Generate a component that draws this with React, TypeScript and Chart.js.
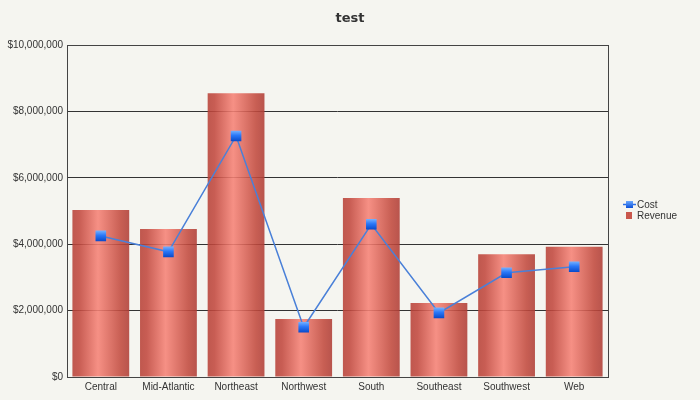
import React, { useEffect, useRef } from "react";
import { Chart, registerables } from "chart.js";
Chart.register(...registerables);

const categories = ["Central", "Mid-Atlantic", "Northeast", "Northwest", "South", "Southeast", "Southwest", "Web"];
const revenue = [5030000, 4460000, 8550000, 1750000, 5390000, 2230000, 3700000, 3920000];
const cost = [4250000, 3770000, 7260000, 1500000, 4600000, 1930000, 3140000, 3320000];
const titleText = "test";
const legendLabels = ["Cost", "Revenue"];

const BG = "#f5f5f0";
const FONT = "'Liberation Sans', sans-serif";
const TFONT = "'DejaVu Sans', sans-serif";

const fmt = (v: number) => "$" + Number(v).toLocaleString("en-US");

export default function App() {
  const ref = useRef<HTMLCanvasElement>(null);
  useEffect(() => {
    document.body.style.margin = "0";
    document.body.style.background = BG;
    const canvas = ref.current!;
    const deco = {
      id: "deco",
      beforeDraw(chart: any) {
        const ctx = chart.ctx;
        ctx.save();
        ctx.fillStyle = BG;
        ctx.fillRect(0, 0, chart.width, chart.height);
        ctx.restore();
      },
      afterDatasetsDraw(chart: any) {
        const ctx = chart.ctx;
        const a = chart.chartArea;
        ctx.save();
        ctx.strokeStyle = "#444";
        ctx.lineWidth = 1;
        ctx.strokeRect(Math.round(a.left) + 0.5, Math.round(a.top) + 0.5, Math.round(a.right - a.left), Math.round(a.bottom - a.top));
        // title
        ctx.fillStyle = "#333";
        ctx.font = "bold 13px " + TFONT;
        ctx.textAlign = "center";
        ctx.textBaseline = "middle";
        ctx.fillText(titleText, 350, 19);
        // legend
        ctx.font = "10px " + FONT;
        ctx.textAlign = "left";
        ctx.strokeStyle = "#2a6ee8";
        ctx.lineWidth = 1.5;
        ctx.beginPath();
        ctx.moveTo(623, 204.5);
        ctx.lineTo(636, 204.5);
        ctx.stroke();
        const g = ctx.createLinearGradient(0, 201, 0, 208);
        g.addColorStop(0, "#6aa8ff");
        g.addColorStop(1, "#0a4fd8");
        ctx.fillStyle = g;
        ctx.fillRect(626, 201, 7, 7);
        ctx.fillStyle = "#c9574c";
        ctx.fillRect(626, 212, 6, 7);
        ctx.fillStyle = "#333";
        ctx.fillText(legendLabels[0], 637, 205);
        ctx.fillText(legendLabels[1], 637, 216);
        ctx.restore();
      },
    };
    const chart = new Chart(canvas, {
      type: "bar",
      data: {
        labels: categories,
        datasets: [
          {
            type: "line",
            label: "Cost",
            data: cost,
            order: 0,
            borderColor: "#4a80d8",
            borderWidth: 1.5,
            pointStyle: "rect",
            pointRadius: 7.5,
            pointHoverRadius: 7.5,
            pointBorderWidth: 0,
            pointBackgroundColor: (c: any) => {
              const chart = c.chart;
              const ys = chart.scales?.y;
              if (!ys || !chart.chartArea || c.raw == null) return "#1a66f0";
              const y = ys.getPixelForValue(c.raw);
              const g = chart.ctx.createLinearGradient(0, y - 5.5, 0, y + 5.5);
              g.addColorStop(0, "#7ab4ff");
              g.addColorStop(0.45, "#2a78f8");
              g.addColorStop(1, "#0848c8");
              return g;
            },
            tension: 0,
          } as any,
          {
            type: "bar",
            label: "Revenue",
            data: revenue,
            order: 1,
            categoryPercentage: 0.84,
            barPercentage: 1,
            borderWidth: 0,
            backgroundColor: (c: any) => {
              const chart = c.chart;
              const xs = chart.scales?.x;
              if (!xs || !chart.chartArea) return "#d0605a";
              const cx = xs.getPixelForValue(c.dataIndex);
              const w = (chart.chartArea.width / categories.length) * 0.84;
              const g = chart.ctx.createLinearGradient(cx - w / 2, 0, cx + w / 2, 0);
              g.addColorStop(0, "rgba(184,66,56,0.88)");
              g.addColorStop(0.12, "rgba(194,72,62,0.88)");
              g.addColorStop(0.45, "rgba(246,130,118,0.88)");
              g.addColorStop(0.85, "rgba(194,74,62,0.88)");
              g.addColorStop(1, "rgba(176,62,54,0.88)");
              return g;
            },
          },
        ],
      },
      options: {
        responsive: false,
        animation: false,
        layout: { padding: { left: 0, right: 92, top: 45, bottom: 0 } },
        plugins: {
          legend: { display: false },
          title: { display: false },
          tooltip: { enabled: false },
        },
        scales: {
          x: {
            grid: { display: false },
            border: { display: false },
            ticks: { color: "#333", font: { family: FONT, size: 10 }, padding: -4, maxRotation: 0, autoSkip: false },
            afterFit: (s: any) => { s.height = 23; },
          },
          y: {
            min: 0,
            max: 10000000,
            grid: { color: "#333", lineWidth: 1, drawTicks: false },
            border: { display: false },
            ticks: { stepSize: 2000000, color: "#333", font: { family: FONT, size: 10 }, padding: 4, callback: (v: any) => fmt(v) },
            afterFit: (s: any) => { s.width = 67; },
          },
        },
      } as any,
      plugins: [deco],
    });
    return () => chart.destroy();
  }, []);
  return <canvas ref={ref} width={700} height={400} style={{ display: "block" }} />;
}
